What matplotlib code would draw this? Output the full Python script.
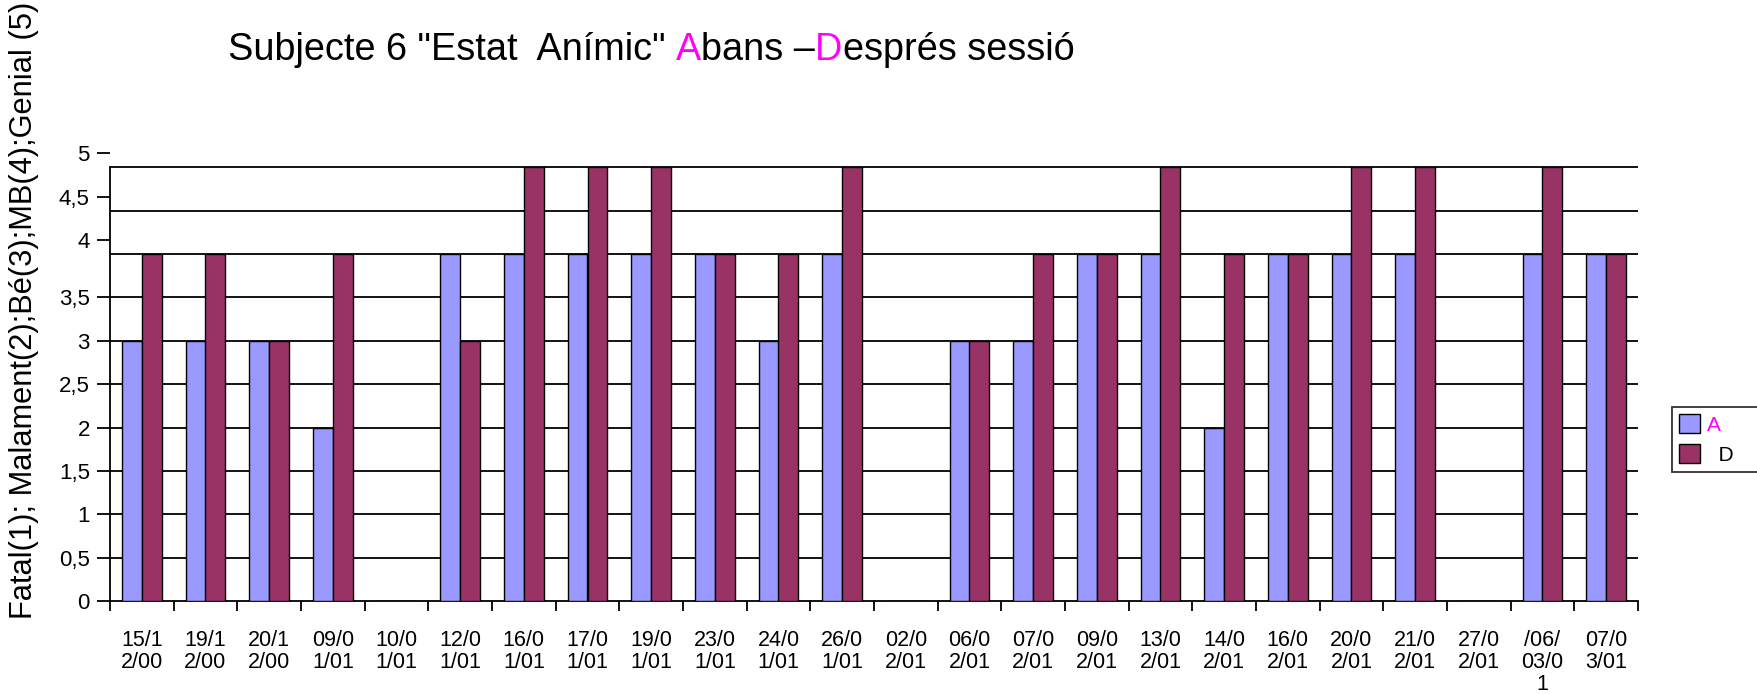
import numpy as np
import matplotlib
matplotlib.use("Agg")
from matplotlib import pyplot as plt

plt.rcParams["font.family"] = ["Liberation Sans", "DejaVu Sans"]

# dates of each session, wrapped every 4 chars like the original axis
dates = ["15/12/00", "19/12/00", "20/12/00", "09/01/01", "10/01/01", "12/01/01",
         "16/01/01", "17/01/01", "19/01/01", "23/01/01", "24/01/01", "26/01/01",
         "02/02/01", "06/02/01", "07/02/01", "09/02/01", "13/02/01", "14/02/01",
         "16/02/01", "20/02/01", "21/02/01", "27/02/01", "/06/03/01", "07/03/01"]
abans = [3, 3, 3, 2, 0, 4, 4, 4, 4, 4, 3, 4, 0, 3, 3, 4, 4, 2, 4, 4, 4, 0, 4, 4]
despres = [4, 4, 3, 4, 0, 3, 5, 5, 5, 4, 4, 5, 0, 3, 4, 4, 5, 4, 4, 5, 5, 0, 5, 4]
grid_vals = [0.5, 1, 1.5, 2, 2.5, 3, 3.5, 4, 4.5, 5]
ytick_vals = [0, 0.5, 1, 1.5, 2, 2.5, 3, 3.5, 4, 4.5, 5]
ytick_labels = ["0", "0,5", "1", "1,5", "2", "2,5", "3", "3,5", "4", "4,5", "5"]

title_parts = ['Subjecte 6 "Estat  Anímic" ', "A", "bans –", "D", "esprés sessió"]
title_colors = ["black", "#FF00FF", "black", "#FF00FF", "black"]
ylabel = "Fatal(1); Malament(2);Bé(3);MB(4);Genial (5)"

W, H = 1758, 695
fig = plt.figure(figsize=(W / 100, H / 100), dpi=100)
ax = fig.add_axes([110 / W, 1 - 601 / H, (1638 - 110) / W, (601 - 137) / H])

x = np.arange(len(dates))
w = 0.31
bA = ax.bar(x - w / 2, abans, w, color="#9999FF", edgecolor="black", lw=1.0, zorder=3)
bD = ax.bar(x + w / 2, despres, w, color="#993366", edgecolor="black", lw=1.0, zorder=3)

ax.hlines(grid_vals, -0.5, len(dates) - 0.5, color="black", lw=1.3, zorder=1)
ax.set_xlim(-0.5, len(dates) - 0.5)
ax.set_ylim(0, 5.35)

for s in ["top", "right"]:
    ax.spines[s].set_visible(False)
ax.spines["left"].set_bounds(0, 5)
ax.spines["left"].set_linewidth(1.3)
ax.spines["bottom"].set_linewidth(1.3)

# upper labels sit a bit higher than their gridlines in the original
yoff = [0] * 8 + [0.16] * 3
ax.set_yticks(np.array(ytick_vals) + np.array(yoff))
ax.set_yticklabels(ytick_labels, fontsize=16)
ax.tick_params(axis="y", length=9.5, width=1.3, pad=5, direction="out")

wrapped = ["\n".join(d[i:i + 4] for i in range(0, len(d), 4)) for d in dates]
ax.set_xticks(x)
ax.set_xticklabels(wrapped, fontsize=15.5, va="top", linespacing=1.05)
ax.tick_params(axis="x", which="major", length=0, pad=21)
ax.set_xticks(np.arange(-0.5, len(dates)), minor=True)
ax.tick_params(axis="x", which="minor", length=7.5, width=1.3, direction="out")

fig.text(24 / W, 1 - 310 / H, ylabel, rotation=90, fontsize=22.2, ha="center", va="center")

# title, with coloured initials
prev = fig.text(228 / W, 1 - 68 / H, title_parts[0], fontsize=27.3,
                color=title_colors[0], va="bottom")
for part, col in zip(title_parts[1:], title_colors[1:]):
    prev = ax.annotate(part, xycoords=prev, xy=(1, 0), va="bottom", ha="left",
                       fontsize=27.3, color=col, annotation_clip=False)

leg = fig.legend([bA, bD], ["A", "  D"], loc="upper left",
                 bbox_to_anchor=(1672 / W, 1 - 474 / H, 95 / W, 67 / H), mode="expand",
                 fontsize=15, handlelength=1.0, handleheight=1.0, handletextpad=0.35,
                 labelspacing=0.45, borderpad=0.35, borderaxespad=0, fancybox=False)
leg.get_frame().set_edgecolor("black")
leg.get_frame().set_linewidth(1.3)
leg.get_texts()[0].set_color("#FF00FF")

fig.savefig("out.png", dpi=100)
